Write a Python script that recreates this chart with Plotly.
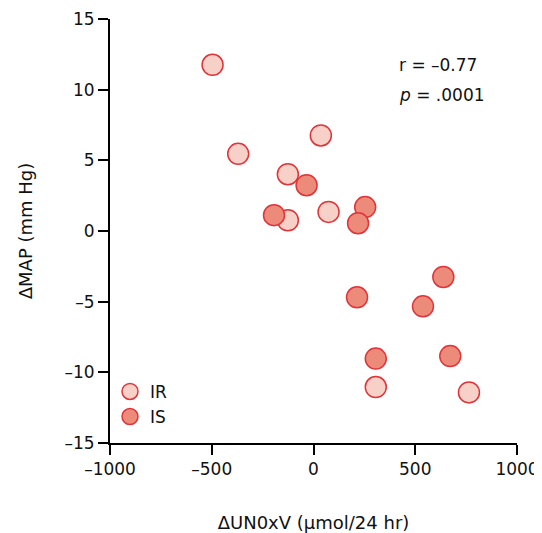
import plotly.graph_objects as go

# Data
ir_x = [-496, -370, 36, -126, -126, 74, 306, 764]
ir_y = [11.76, 5.46, 6.76, 4.02, 0.76, 1.35, -11.04, -11.42]
is_x = [-34, -194, 254, 219, 638, 214, 538, 306, 672]
is_y = [3.24, 1.12, 1.69, 0.55, -3.25, -4.69, -5.33, -9.03, -8.85]

x_ticks = [-1000, -500, 0, 500, 1000]
x_ticktext = ["\u20131000", "\u2013500", "0", "500", "1000"]
y_ticks = [-15, -10, -5, 0, 5, 10, 15]
y_ticktext = ["\u201315", "\u201310", "\u20135", "0", "5", "10", "15"]

FONT = "DejaVu Sans, Liberation Sans, Arial, sans-serif"
outline = "#e0343a"

fig = go.Figure()
fig.add_trace(go.Scatter(
    x=ir_x, y=ir_y, mode="markers", name="IR",
    marker=dict(size=21, color="#f7d1c8", line=dict(color=outline, width=1.5)),
))
fig.add_trace(go.Scatter(
    x=is_x, y=is_y, mode="markers", name="IS",
    marker=dict(size=21, color="#ec8b7a", line=dict(color=outline, width=1.5)),
))

# page has an 8px body margin; figure sized so it fits the 542x533 window
fig.update_layout(
    width=534, height=525,
    margin=dict(l=102, r=25, t=11, b=90),
    paper_bgcolor="white", plot_bgcolor="white",
    font=dict(family=FONT, size=17, color="#111"),
    showlegend=True,
    legend=dict(x=0.0, y=0.163, xanchor="left", yanchor="top",
                font=dict(size=17, color="#111"), bgcolor="rgba(0,0,0,0)",
                itemsizing="trace", tracegroupgap=0),
    xaxis=dict(range=[-1000, 1000], tickvals=x_ticks, ticktext=x_ticktext,
               automargin=False,
               showgrid=False, zeroline=False, showline=True, linecolor="black",
               linewidth=2, ticks="outside", ticklen=10, tickwidth=1.5,
               tickcolor="black",
               title=dict(text="\u0394UN0xV (\u03bcmol/24 hr)", standoff=38,
                          font=dict(size=18))),
    yaxis=dict(range=[-15, 15], tickvals=y_ticks, ticktext=y_ticktext,
               automargin=False,
               showgrid=False, zeroline=False, showline=True, linecolor="black",
               linewidth=2, ticks="outside", ticklen=10, tickwidth=1.5,
               tickcolor="black",
               title=dict(text="\u0394MAP (mm Hg)", standoff=27,
                          font=dict(size=18))),
)
fig.add_annotation(xref="paper", yref="paper", x=(397 - 110) / 407, y=(443 - 65) / 424,
                   xanchor="left", yanchor="middle", showarrow=False,
                   text="r = \u20130.77", font=dict(size=17, color="#111"))
fig.add_annotation(xref="paper", yref="paper", x=(397 - 110) / 407, y=(443 - 95) / 424,
                   xanchor="left", yanchor="middle", showarrow=False,
                   text="<i>p</i> = .0001", font=dict(size=17, color="#111"))

fig.write_html("out.html")
